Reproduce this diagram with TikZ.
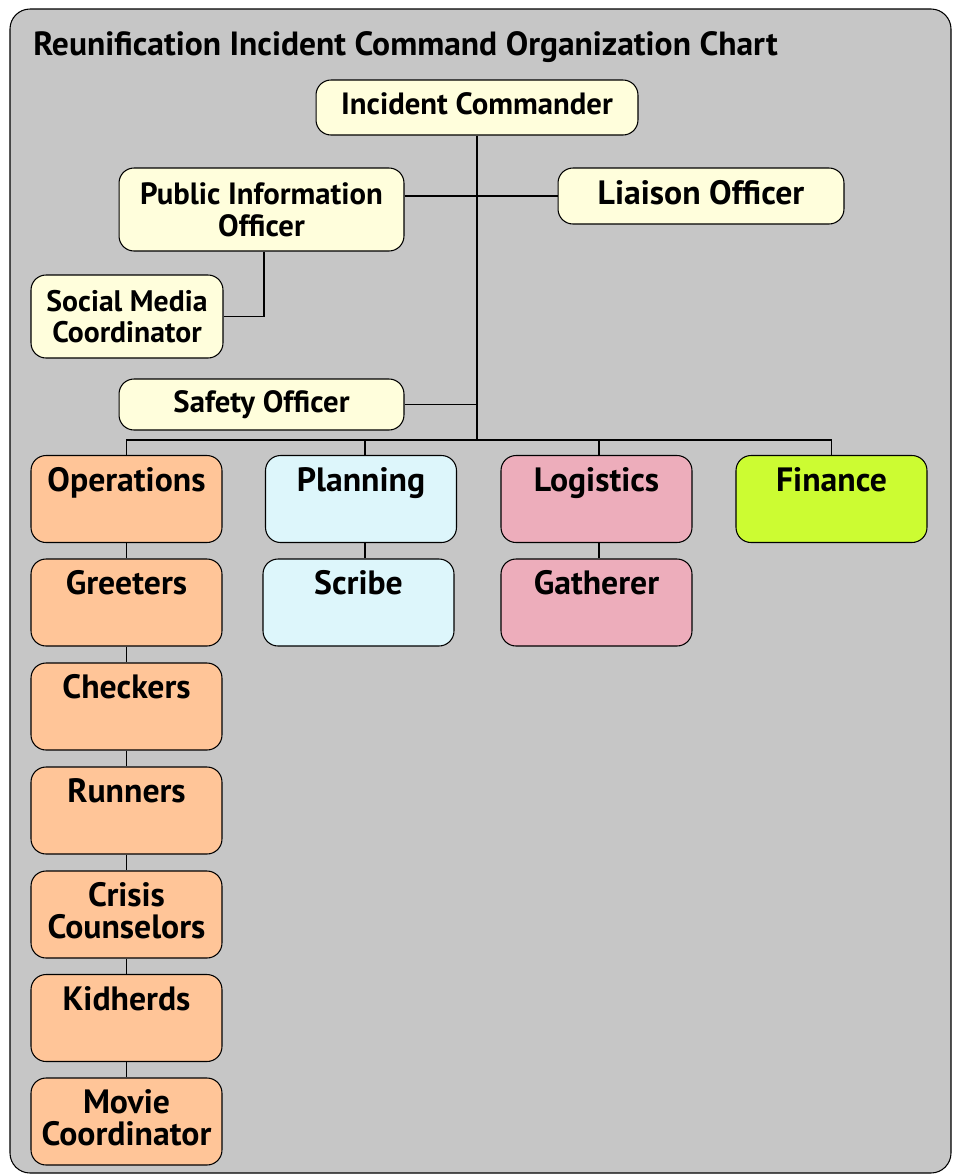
\documentclass[tikz,border=0pt]{standalone}
\usepackage{fontspec}
\setmainfont{PT Sans}
\usepackage{tikz}
\usetikzlibrary{backgrounds}
\definecolor{panelgray}{HTML}{C6C6C6}
\definecolor{cmdyellow}{HTML}{FFFEDC}
\definecolor{opsorange}{HTML}{FFC598}
\definecolor{planblue}{HTML}{DDF6FB}
\definecolor{logpink}{HTML}{EDADBB}
\definecolor{finlime}{HTML}{CCFC32}
\newcommand{\lowpad}{\rule[-0.16cm]{0pt}{0.16cm}}
\tikzstyle{staff}=[rectangle, draw=black, line width=0.6pt, fill=cmdyellow, rounded corners=0.3cm, inner sep=0pt, align=center, font=\fontsize{17.5}{18.1}\selectfont\bfseries]
\tikzstyle{sect}=[rectangle, draw=black, line width=0.6pt, rounded corners=0.3cm, inner sep=0pt, align=center, minimum width=3.82cm, minimum height=1.74cm, font=\fontsize{19.2}{18.1}\selectfont\bfseries]
\tikzstyle{ops}=[sect, fill=opsorange]
\tikzstyle{plan}=[sect, fill=planblue]
\tikzstyle{logi}=[sect, fill=logpink]
\tikzstyle{fin}=[sect, fill=finlime]
\tikzstyle{link}=[draw=black, line width=0.8pt]

\begin{document}
\begin{tikzpicture}[x=0.02cm,y=-0.02cm]
\useasboundingbox (0,0) rectangle (957,1174);
%Title
\node[anchor=base west, inner sep=0pt, font=\fontsize{19.1}{20}\selectfont\bfseries](title) at (33,55){Reunification Incident Command Organization Chart};
%Command staff
\node[staff, minimum width=6.44cm, minimum height=1.1cm] (ic) at (477,107.5){Incident Commander\lowpad};
\node[staff, minimum width=5.7cm, minimum height=1.66cm] (pio) at (261.5,209.5){Public Information\\Officer};
\node[staff, minimum width=5.72cm, minimum height=1.12cm, font=\fontsize{19.2}{18.1}\selectfont\bfseries] (lo) at (701,196){Liaison Officer\lowpad};
\node[staff, minimum width=3.84cm, minimum height=1.66cm, font=\fontsize{16.9}{18.1}\selectfont\bfseries] (smc) at (127,316.5){Social Media\\Coordinator};
\node[staff, minimum width=5.7cm, minimum height=1.02cm] (so) at (261.5,404.5){Safety Officer};
\coordinate (bus) at (477,440);
%Row One
\node[ops] (opr) at (126.5,499){Operations\\\lowpad};
\node[plan] (pln) at (361,499){Planning\\\lowpad};
\node[logi] (lgs) at (596.5,499){Logistics\\\lowpad};
\node[fin] (fnc) at (831.5,499){Finance\\\lowpad};
%Row Two
\node[ops] (grt) at (126.5,602.5){Greeters\\\lowpad};
\node[plan] (scr) at (358.5,602.5){Scribe\\\lowpad};
\node[logi] (gat) at (596.5,602.5){Gatherer\\\lowpad};
%Operations column
\node[ops] (chk) at (126.5,706.5){Checkers\\\lowpad};
\node[ops] (run) at (126.5,810.5){Runners\\\lowpad};
\node[ops] (crc) at (126.5,914.5){Crisis\\Counselors\lowpad};
\node[ops] (kid) at (126.5,1018){Kidherds\\\lowpad};
\node[ops] (mov) at (126.5,1121.5){Movie\\Coordinator\lowpad};
%Lines
\draw[link] (ic.south) -- (bus);
\draw[link] (pio.east |- lo.west) -- (lo.west);
\draw[link] ([xshift=0.05cm]pio.south) |- (smc.east);
\draw[link] (so.east) -- (so.east -| bus);
\draw[link] (opr.north) |- (bus);
\draw[link] ([xshift=0.08cm]pln.north) |- (bus);
\draw[link] ([xshift=0.05cm]lgs.north) |- (bus);
\draw[link] (fnc.north) |- (bus);
\draw[link] ([xshift=0.08cm]pln.south) -- ([xshift=0.08cm]pln.south |- scr.north);
\draw[link] ([xshift=0.05cm]lgs.south) -- ([xshift=0.05cm]gat.north);
\foreach \a/\b in {opr/grt,grt/chk,chk/run,run/crc,crc/kid,kid/mov}
  \draw[link] (\a.south) -- (\b.north);
%background
\begin{scope}[on background layer]
\fill[panelgray, draw=black, line width=0.6pt, rounded corners=0.4cm](10,9) rectangle(951,1173);
\end{scope}
\end{tikzpicture}
\end{document}
